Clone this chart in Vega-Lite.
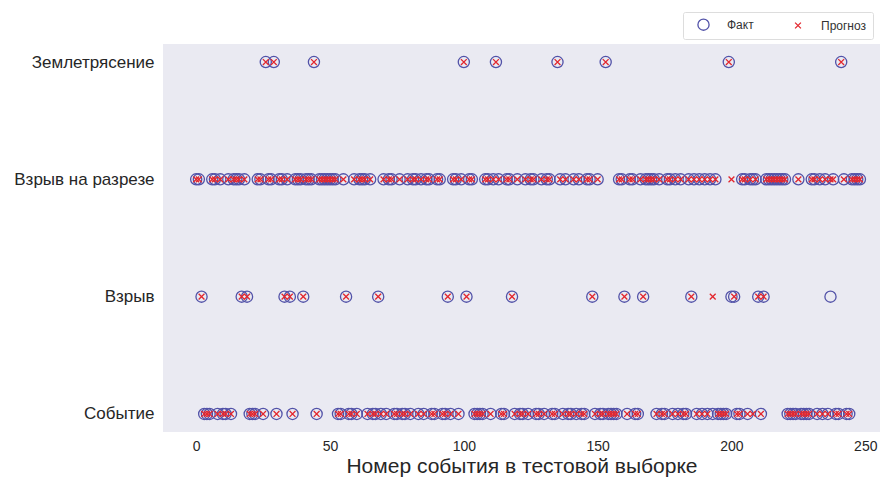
{
  "$schema": "https://vega.github.io/schema/vega-lite/v6.json",
  "autosize": {"type": "none"},
  "padding": {"left": 163, "top": 44, "right": 0, "bottom": 47},
  "width": 717,
  "height": 388,
  "background": "white",
  "config": {
    "view": {"fill": "#EAEAF2", "stroke": null},
    "font": "Liberation Sans",
    "axis": {"grid": false, "domain": false, "ticks": false, "labelColor": "#262626", "titleColor": "#262626", "labelFont": "Liberation Sans", "titleFont": "Liberation Sans", "titleFontWeight": "normal"},
    "legend": {
      "title": null, "orient": "none", "legendX": 520, "legendY": -32, "direction": "horizontal",
      "labelFontSize": 12, "labelColor": "#333333", "labelFont": "Liberation Sans",
      "fillColor": "white", "strokeColor": "#DDDDDD", "cornerRadius": 2, "padding": 6,
      "symbolOffset": 8, "columnPadding": 30, "labelOffset": 17, "symbolStrokeWidth": 1.3
    }
  },
  "data": {"values": [
    {"n":0,"f":"R","p":"R"},{"n":1,"f":"R","p":"R"},{"n":2,"f":"V","p":"V"},{"n":3,"f":"S","p":"S"},{"n":4,"f":"S","p":"S"},{"n":5,"f":"S","p":"S"},{"n":6,"f":"R","p":"R"},{"n":7,"f":"R","p":"R"},{"n":8,"f":"S","p":"S"},{"n":9,"f":"R","p":"R"},
    {"n":10,"f":"S","p":"S"},{"n":11,"f":"S","p":"S"},{"n":12,"f":"R","p":"R"},{"n":13,"f":"S","p":"S"},{"n":14,"f":"R","p":"R"},{"n":15,"f":"R","p":"R"},{"n":16,"f":"R","p":"R"},{"n":17,"f":"V","p":"V"},{"n":18,"f":"R","p":"R"},{"n":19,"f":"V","p":"V"},
    {"n":20,"f":"S","p":"S"},{"n":21,"f":"S","p":"S"},{"n":22,"f":"S","p":"S"},{"n":23,"f":"R","p":"R"},{"n":24,"f":"R","p":"R"},{"n":25,"f":"S","p":"S"},{"n":26,"f":"Z","p":"Z"},{"n":27,"f":"R","p":"R"},{"n":28,"f":"R","p":"R"},{"n":29,"f":"Z","p":"Z"},
    {"n":30,"f":"S","p":"S"},{"n":31,"f":"R","p":"R"},{"n":32,"f":"R","p":"R"},{"n":33,"f":"V","p":"V"},{"n":34,"f":"R","p":"R"},{"n":35,"f":"V","p":"V"},{"n":36,"f":"S","p":"S"},{"n":37,"f":"R","p":"R"},{"n":38,"f":"R","p":"R"},{"n":39,"f":"R","p":"R"},
    {"n":40,"f":"V","p":"V"},{"n":41,"f":"R","p":"R"},{"n":42,"f":"R","p":"R"},{"n":43,"f":"R","p":"R"},{"n":44,"f":"Z","p":"Z"},{"n":45,"f":"S","p":"S"},{"n":46,"f":"R","p":"R"},{"n":47,"f":"R","p":"R"},{"n":48,"f":"R","p":"R"},{"n":49,"f":"R","p":"R"},
    {"n":50,"f":"R","p":"R"},{"n":51,"f":"R","p":"R"},{"n":52,"f":"R","p":"R"},{"n":53,"f":"S","p":"S"},{"n":54,"f":"S","p":"S"},{"n":55,"f":"R","p":"R"},{"n":56,"f":"V","p":"V"},{"n":57,"f":"S","p":"S"},{"n":58,"f":"S","p":"S"},{"n":59,"f":"R","p":"R"},
    {"n":60,"f":"S","p":"S"},{"n":61,"f":"R","p":"R"},{"n":62,"f":"R","p":"R"},{"n":63,"f":"R","p":"R"},{"n":64,"f":"S","p":"S"},{"n":65,"f":"R","p":"R"},{"n":66,"f":"S","p":"S"},{"n":67,"f":"S","p":"S"},{"n":68,"f":"V","p":"V"},{"n":69,"f":"S","p":"S"},
    {"n":70,"f":"R","p":"R"},{"n":71,"f":"S","p":"S"},{"n":72,"f":"R","p":"R"},{"n":73,"f":"R","p":"R"},{"n":74,"f":"S","p":"S"},{"n":75,"f":"S","p":"S"},{"n":76,"f":"R","p":"R"},{"n":77,"f":"S","p":"S"},{"n":78,"f":"S","p":"S"},{"n":79,"f":"R","p":"R"},
    {"n":80,"f":"S","p":"S"},{"n":81,"f":"R","p":"R"},{"n":82,"f":"R","p":"R"},{"n":83,"f":"S","p":"S"},{"n":84,"f":"R","p":"R"},{"n":85,"f":"S","p":"S"},{"n":86,"f":"R","p":"R"},{"n":87,"f":"R","p":"R"},{"n":88,"f":"S","p":"S"},{"n":89,"f":"S","p":"S"},
    {"n":90,"f":"R","p":"R"},{"n":91,"f":"R","p":"R"},{"n":92,"f":"S","p":"S"},{"n":93,"f":"S","p":"S"},{"n":94,"f":"V","p":"V"},{"n":95,"f":"S","p":"S"},{"n":96,"f":"R","p":"R"},{"n":97,"f":"R","p":"R"},{"n":98,"f":"S","p":"S"},{"n":99,"f":"R","p":"R"},
    {"n":100,"f":"Z","p":"Z"},{"n":101,"f":"V","p":"V"},{"n":102,"f":"R","p":"R"},{"n":103,"f":"R","p":"R"},{"n":104,"f":"S","p":"S"},{"n":105,"f":"S","p":"S"},{"n":106,"f":"S","p":"S"},{"n":107,"f":"S","p":"S"},{"n":108,"f":"R","p":"R"},{"n":109,"f":"R","p":"R"},
    {"n":110,"f":"S","p":"S"},{"n":111,"f":"R","p":"R"},{"n":112,"f":"Z","p":"Z"},{"n":113,"f":"R","p":"R"},{"n":114,"f":"S","p":"S"},{"n":115,"f":"S","p":"S"},{"n":116,"f":"R","p":"R"},{"n":117,"f":"R","p":"R"},{"n":118,"f":"V","p":"V"},{"n":119,"f":"S","p":"S"},
    {"n":120,"f":"R","p":"R"},{"n":121,"f":"S","p":"S"},{"n":122,"f":"S","p":"S"},{"n":123,"f":"R","p":"R"},{"n":124,"f":"S","p":"S"},{"n":125,"f":"R","p":"R"},{"n":126,"f":"R","p":"R"},{"n":127,"f":"S","p":"S"},{"n":128,"f":"S","p":"S"},{"n":129,"f":"R","p":"R"},
    {"n":130,"f":"S","p":"S"},{"n":131,"f":"R","p":"R"},{"n":132,"f":"R","p":"R"},{"n":133,"f":"S","p":"S"},{"n":134,"f":"S","p":"S"},{"n":135,"f":"Z","p":"Z"},{"n":136,"f":"R","p":"R"},{"n":137,"f":"S","p":"S"},{"n":138,"f":"R","p":"R"},{"n":139,"f":"S","p":"S"},
    {"n":140,"f":"S","p":"S"},{"n":141,"f":"R","p":"R"},{"n":142,"f":"S","p":"S"},{"n":143,"f":"R","p":"R"},{"n":144,"f":"S","p":"S"},{"n":145,"f":"S","p":"S"},{"n":146,"f":"R","p":"R"},{"n":147,"f":"R","p":"R"},{"n":148,"f":"V","p":"V"},{"n":149,"f":"S","p":"S"},
    {"n":150,"f":"R","p":"R"},{"n":151,"f":"S","p":"S"},{"n":152,"f":"S","p":"S"},{"n":153,"f":"Z","p":"Z"},{"n":154,"f":"S","p":"S"},{"n":155,"f":"S","p":"S"},{"n":156,"f":"S","p":"S"},{"n":157,"f":"S","p":"S"},{"n":158,"f":"R","p":"R"},{"n":159,"f":"R","p":"R"},
    {"n":160,"f":"V","p":"V"},{"n":161,"f":"S","p":"S"},{"n":162,"f":"R","p":"R"},{"n":163,"f":"R","p":"R"},{"n":164,"f":"S","p":"S"},{"n":165,"f":"S","p":"S"},{"n":166,"f":"R","p":"R"},{"n":167,"f":"V","p":"V"},{"n":168,"f":"R","p":"R"},{"n":169,"f":"R","p":"R"},
    {"n":170,"f":"R","p":"R"},{"n":171,"f":"R","p":"R"},{"n":172,"f":"S","p":"S"},{"n":173,"f":"R","p":"R"},{"n":174,"f":"S","p":"S"},{"n":175,"f":"S","p":"S"},{"n":176,"f":"R","p":"R"},{"n":177,"f":"R","p":"R"},{"n":178,"f":"S","p":"S"},{"n":179,"f":"R","p":"R"},
    {"n":180,"f":"S","p":"S"},{"n":181,"f":"R","p":"R"},{"n":182,"f":"S","p":"S"},{"n":183,"f":"S","p":"S"},{"n":184,"f":"R","p":"R"},{"n":185,"f":"V","p":"V"},{"n":186,"f":"R","p":"R"},{"n":187,"f":"S","p":"S"},{"n":188,"f":"R","p":"R"},{"n":189,"f":"S","p":"S"},
    {"n":190,"f":"R","p":"R"},{"n":191,"f":"S","p":"S"},{"n":192,"f":"R","p":"R"},{"n":193,"f":"S","p":"V"},{"n":194,"f":"R","p":"R"},{"n":195,"f":"S","p":"S"},{"n":196,"f":"S","p":"S"},{"n":197,"f":"S","p":"S"},{"n":198,"f":"S","p":"S"},{"n":199,"f":"Z","p":"Z"},
    {"n":200,"f":"V","p":"R"},{"n":201,"f":"V","p":"V"},{"n":202,"f":"S","p":"S"},{"n":203,"f":"S","p":"S"},{"n":204,"f":"R","p":"R"},{"n":205,"f":"R","p":"R"},{"n":206,"f":"S","p":"S"},{"n":207,"f":"R","p":"R"},{"n":208,"f":"R","p":"S"},{"n":209,"f":"R","p":"R"},
    {"n":210,"f":"V","p":"V"},{"n":211,"f":"S","p":"S"},{"n":212,"f":"V","p":"V"},{"n":213,"f":"R","p":"R"},{"n":214,"f":"R","p":"R"},{"n":215,"f":"R","p":"R"},{"n":216,"f":"R","p":"R"},{"n":217,"f":"R","p":"R"},{"n":218,"f":"R","p":"R"},{"n":219,"f":"R","p":"R"},
    {"n":220,"f":"R","p":"R"},{"n":221,"f":"S","p":"S"},{"n":222,"f":"S","p":"S"},{"n":223,"f":"S","p":"S"},{"n":224,"f":"S","p":"S"},{"n":225,"f":"R","p":"R"},{"n":226,"f":"S","p":"S"},{"n":227,"f":"S","p":"S"},{"n":228,"f":"S","p":"S"},{"n":229,"f":"S","p":"S"},
    {"n":230,"f":"R","p":"R"},{"n":231,"f":"R","p":"R"},{"n":232,"f":"S","p":"S"},{"n":233,"f":"R","p":"R"},{"n":234,"f":"S","p":"S"},{"n":235,"f":"R","p":"R"},{"n":236,"f":"S","p":"S"},{"n":237,"f":"V","p":"R"},{"n":238,"f":"R","p":"R"},{"n":239,"f":"S","p":"S"},
    {"n":240,"f":"S","p":"S"},{"n":241,"f":"Z","p":"Z"},{"n":242,"f":"R","p":"R"},{"n":243,"f":"S","p":"S"},{"n":244,"f":"S","p":"S"},{"n":245,"f":"R","p":"R"},{"n":246,"f":"R","p":"R"},{"n":247,"f":"R","p":"R"},{"n":248,"f":"R","p":"R"}
  ]},
  "transform": [{"fold": ["f", "p"], "as": ["kind", "cls"]}],
  "mark": {"type": "point", "filled": false, "strokeWidth": 1.3, "opacity": 1},
  "encoding": {
    "x": {
      "field": "n", "type": "quantitative",
      "scale": {"domain": [-12.4, 255.5], "nice": false, "zero": false},
      "axis": {"values": [0, 50, 100, 150, 200, 250], "labelFontSize": 14, "labelPadding": 7, "title": "Номер события в тестовой выборке", "titleFontSize": 21, "titlePadding": 2}
    },
    "y": {
      "field": "cls", "type": "nominal",
      "scale": {"type": "point", "domain": ["Z", "R", "V", "S"], "padding": 0.154},
      "axis": {"title": null, "labelFontSize": 17, "labelPadding": 9, "labelExpr": "datum.value == 'Z' ? 'Землетрясение' : datum.value == 'R' ? 'Взрыв на разрезе' : datum.value == 'V' ? 'Взрыв' : 'Событие'"}
    },
    "shape": {
      "field": "kind", "type": "nominal",
      "scale": {"domain": ["f", "p"], "range": ["circle", "M-1,-1L1,1M1,-1L-1,1"]},
      "legend": {"labelExpr": "datum.value == 'f' ? 'Факт' : 'Прогноз'"}
    },
    "stroke": {
      "field": "kind", "type": "nominal",
      "scale": {"domain": ["f", "p"], "range": ["#5252A8", "#E3262D"]},
      "legend": {"labelExpr": "datum.value == 'f' ? 'Факт' : 'Прогноз'"}
    },
    "size": {
      "field": "kind", "type": "nominal",
      "scale": {"domain": ["f", "p"], "range": [125, 34]},
      "legend": {"labelExpr": "datum.value == 'f' ? 'Факт' : 'Прогноз'"}
    },
    "order": {"field": "kind", "sort": "ascending"}
  }
}
